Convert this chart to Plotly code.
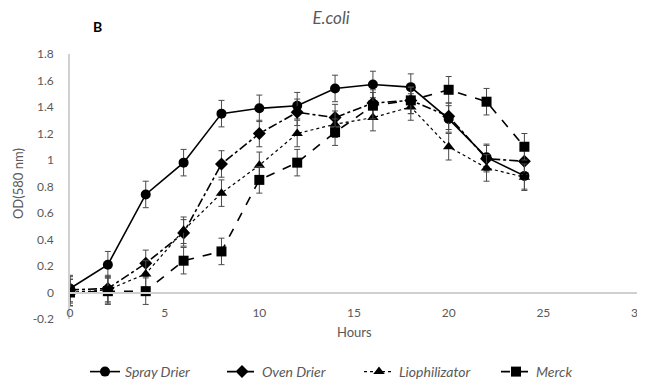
import plotly.graph_objects as go

hours = [0, 2, 4, 6, 8, 10, 12, 14, 16, 18, 20, 22, 24]
spray_drier = [0.03, 0.21, 0.74, 0.98, 1.35, 1.39, 1.41, 1.54, 1.57, 1.55, 1.31, 1.02, 0.88]
oven_drier = [0.02, 0.03, 0.22, 0.45, 0.97, 1.20, 1.36, 1.32, 1.43, 1.45, 1.33, 1.01, 0.99]
liophilizator = [0.0, 0.02, 0.14, 0.47, 0.75, 0.96, 1.20, 1.27, 1.32, 1.40, 1.10, 0.94, 0.87]
merck = [0.0, 0.01, 0.01, 0.24, 0.31, 0.85, 0.98, 1.21, 1.41, 1.45, 1.53, 1.44, 1.10]
err = [0.1] * 13

series_names = ["Spray Drier", "Oven Drier", "Liophilizator", "Merck"]
series_values = [spray_drier, oven_drier, liophilizator, merck]
symbols = ["circle", "diamond", "triangle-up", "square"]
dashes = ["solid", "dashdot", "dot", "dash"]
sizes = [10, 10, 10, 10]
widths = [1.6, 1.6, 1.2, 1.6]

x_ticks = [0, 5, 10, 15, 20, 25, 30]
y_ticks = [-0.2, 0, 0.2, 0.4, 0.6, 0.8, 1, 1.2, 1.4, 1.6, 1.8]
y_labels = ["-0.2", "0", "0.2", "0.4", "0.6", "0.8", "1", "1.2", "1.4", "1.6", "1.8"]

FONT = "Lato"
GRAY = "#595959"

# page body has an 8px margin; figure sized to fit the window
W, H = 637, 371
OFF = 8

fig = go.Figure()
for name, vals, sym, dash, sz, w in zip(series_names, series_values, symbols, dashes, sizes, widths):
    fig.add_trace(go.Scatter(
        x=hours, y=vals, name=name, mode="lines+markers",
        line=dict(color="black", width=w, dash=dash),
        marker=dict(symbol=sym, size=sz, color="black"),
        error_y=dict(type="data", array=err, visible=True, color="#4a4a4a", thickness=1, width=3),
    ))

ymin, ymax = -0.2, 1.8
pos0 = (0 - ymin) / (ymax - ymin)

fig.update_layout(
    width=W, height=H, autosize=False,
    margin=dict(l=70 - OFF, r=7, t=54 - OFF, b=60, pad=0, autoexpand=False),
    paper_bgcolor="white", plot_bgcolor="white",
    font=dict(family=FONT, size=12, color=GRAY),
    title=dict(text="E.coli", x=(331 - OFF) / W, xanchor="center", y=1 - (18 - OFF) / H, yanchor="middle",
               xref="container", yref="container",
               font=dict(family=FONT, size=17, color=GRAY, style="italic")),
    xaxis=dict(range=[0, 30], tickvals=x_ticks, showgrid=False, zeroline=False,
               showline=True, linecolor="#d0d0d0", linewidth=1.5,
               anchor="free", position=pos0, ticks="", ticklabelstandoff=9,
               tickfont=dict(family=FONT, size=12, color=GRAY)),
    yaxis=dict(range=[ymin, ymax], tickvals=y_ticks, ticktext=y_labels, showgrid=False,
               zeroline=False, showline=True, linecolor="#d0d0d0", linewidth=1.5,
               ticks="", ticklabelstandoff=12,
               tickfont=dict(family=FONT, size=12, color=GRAY)),
    legend=dict(orientation="h", x=(85 - OFF) / W, xanchor="left", y=1 - (372 - OFF) / H, yanchor="middle",
                xref="container", yref="container",
                font=dict(family=FONT, size=14, color=GRAY, style="italic"),
                entrywidth=92, entrywidthmode="pixels",
                tracegroupgap=0),
    showlegend=True,
)

fig.add_annotation(text="<b>B</b>", x=(97 - 70) / 567, y=(318.7 - 27) / 264.7, xref="paper", yref="paper",
                   xanchor="center", yanchor="middle",
                   showarrow=False, font=dict(family=FONT, size=14, color="black"))
fig.add_annotation(text="Hours", x=(354 - 70) / 567, y=(318.7 - 332) / 264.7, xref="paper", yref="paper",
                   xanchor="center", yanchor="middle",
                   showarrow=False, font=dict(family=FONT, size=13, color=GRAY))
fig.add_annotation(text="OD(580 nm)", x=(18 - 70) / 567, y=(318.7 - 183) / 264.7, xref="paper", yref="paper",
                   xanchor="center", yanchor="middle",
                   showarrow=False, textangle=-90, font=dict(family=FONT, size=13, color=GRAY))

fig.write_html("out.html")
